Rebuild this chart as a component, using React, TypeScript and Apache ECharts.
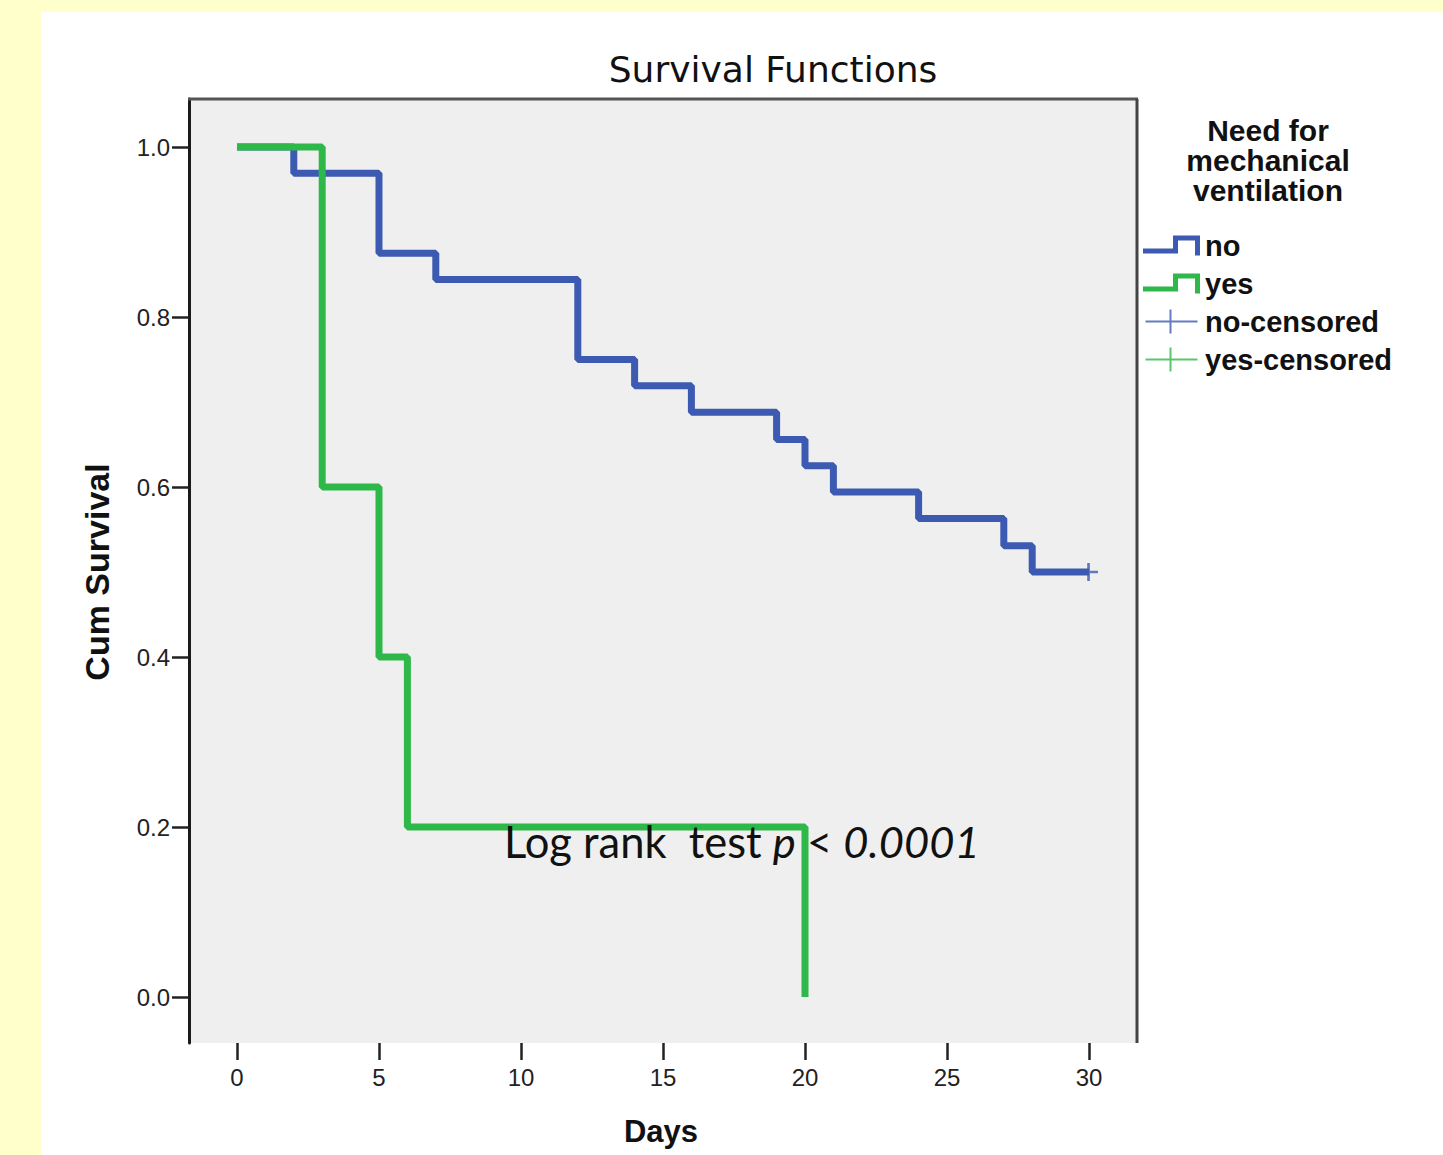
import React, { useEffect, useRef } from "react";
import * as echarts from "echarts";

// Kaplan-Meier step data
const noDays = [0, 2, 5, 7, 12, 14, 16, 19, 20, 21, 24, 27, 28, 30];
const noSurvival = [1.0, 0.969, 0.875, 0.844, 0.75, 0.719, 0.688, 0.656, 0.625, 0.594, 0.563, 0.531, 0.5, 0.5];
const yesDays = [0, 3, 5, 6, 20];
const yesSurvival = [1.0, 0.6, 0.4, 0.2, 0.0];
const noCensoredDays = [30];
const noCensoredSurvival = [0.5];
const yesCensoredDays: number[] = [];
const yesCensoredSurvival: number[] = [];

const xTickValues = [0, 5, 10, 15, 20, 25, 30];
const yTickValues = [0, 0.2, 0.4, 0.6, 0.8, 1.0];

const seriesNames = ["no", "yes", "no-censored", "yes-censored"];
const chartTitle = "Survival Functions";
const legendTitle = "Need for\nmechanical\nventilation";
const xAxisTitle = "Days";
const yAxisTitle = "Cum Survival";

const BLUE = "#3D5AB3";
const GREEN = "#2EB84A";

const STEP_ICON = "path://M0,13 L30,13 L30,0 L57,0 L57,20 L52,20 L52,5 L35,5 L35,18 L0,18 Z";
const CROSS_ICON = "path://M0,11 L52,11 L52,13 L0,13 Z M24,0 L26,0 L26,24 L24,24 Z";
const CENSOR_MARK = "path://M8,0 L11,0 L11,20 L8,20 Z M0,8.5 L20,8.5 L20,11.5 L0,11.5 Z";

const zip = (xs: number[], ys: number[]) => xs.map((x, i) => [x, ys[i]]);

export default function App() {
  const ref = useRef<HTMLDivElement>(null);

  useEffect(() => {
    if (!ref.current) return;
    const chart = echarts.init(ref.current, undefined, { renderer: "svg" });
    const axisFont = "'Liberation Sans', Arial, sans-serif";

    chart.setOption({
      animation: false,
      backgroundColor: "transparent",
      title: [
        {
          text: chartTitle,
          left: 773,
          top: 51,
          padding: 0,
          textAlign: "center",
          textStyle: {
            fontFamily: "'DejaVu Sans', sans-serif",
            fontSize: 36,
            fontWeight: "normal",
            color: "#111",
          },
        },
        {
          text: legendTitle,
          left: 1268,
          top: 115,
          padding: 0,
          textAlign: "center",
          textStyle: {
            fontFamily: axisFont,
            fontSize: 30,
            fontWeight: "bold",
            lineHeight: 30,
            color: "#111",
          },
        },
      ],
      legend: {
        orient: "vertical",
        left: 1143,
        top: 231,
        padding: 0,
        itemWidth: 57,
        itemHeight: 24,
        itemGap: 9,
        selectedMode: false,
        itemStyle: { borderWidth: 0 },
        textStyle: {
          fontFamily: axisFont,
          fontSize: 29,
          fontWeight: "bold",
          color: "#111",
        },
        data: [
          { name: seriesNames[0], icon: STEP_ICON },
          { name: seriesNames[1], icon: STEP_ICON },
          { name: seriesNames[2], icon: CROSS_ICON },
          { name: seriesNames[3], icon: CROSS_ICON },
        ],
      },
      grid: {
        left: 189,
        top: 99,
        width: 948,
        height: 944,
        show: true,
        backgroundColor: "#EFEFEF",
        borderWidth: 0,
      },
      xAxis: {
        type: "value",
        min: -1.69,
        max: 31.69,
        axisLine: { show: false, onZero: false },
        axisTick: {
          show: true,
          length: 17,
          customValues: xTickValues,
          lineStyle: { color: "#222", width: 2.5 },
        },
        axisLabel: {
          margin: 22,
          fontFamily: axisFont,
          fontSize: 24,
          color: "#222",
          customValues: xTickValues,
        },
        splitLine: { show: false },
      },
      yAxis: {
        type: "value",
        min: -0.0541,
        max: 1.0565,
        axisLine: { show: true, onZero: false, lineStyle: { color: "#1a1a1a", width: 3 } },
        axisTick: {
          show: true,
          length: 17,
          customValues: yTickValues,
          lineStyle: { color: "#222", width: 2.5 },
        },
        axisLabel: {
          margin: 19,
          fontFamily: axisFont,
          fontSize: 24,
          color: "#222",
          customValues: yTickValues,
          formatter: (v: number) => v.toFixed(1),
        },
        splitLine: { show: false },
      },
      graphic: [
        {
          type: "line",
          z: 1,
          shape: { x1: 188, y1: 99, x2: 1138, y2: 99 },
          style: { stroke: "#555", lineWidth: 3 },
          silent: true,
        },
        {
          type: "line",
          z: 1,
          shape: { x1: 1137, y1: 99, x2: 1137, y2: 1043 },
          style: { stroke: "#444", lineWidth: 3 },
          silent: true,
        },
        {
          type: "text",
          z: 5,
          x: 97,
          y: 572,
          rotation: Math.PI / 2,
          style: {
            text: yAxisTitle,
            fontFamily: axisFont,
            fontSize: 34,
            fontWeight: "bold",
            fill: "#111",
            align: "center",
            verticalAlign: "middle",
          },
        },
        {
          type: "text",
          z: 5,
          x: 661,
          y: 1131,
          style: {
            text: xAxisTitle,
            fontFamily: axisFont,
            fontSize: 31,
            fontWeight: "bold",
            fill: "#111",
            align: "center",
            verticalAlign: "middle",
          },
        },
        {
          type: "text",
          z: 10,
          x: 504,
          y: 841,
          style: {
            text: "{n|Log rank  test }{i|p}{n| < }{i|0.0001}",
            verticalAlign: "middle",
            align: "left",
            rich: {
              n: { fontFamily: "Lato, 'Open Sans', sans-serif", fontSize: 43.5, fill: "#111", fontStyle: "normal" },
              i: { fontFamily: "Lato, 'Open Sans', sans-serif", fontSize: 43.5, fill: "#111", fontStyle: "italic" },
            },
          },
        },
      ],
      series: [
        {
          name: seriesNames[0],
          type: "line",
          step: "end",
          clip: false,
          showSymbol: false,
          symbol: "none",
          color: BLUE,
          lineStyle: { color: BLUE, width: 7 },
          data: zip(noDays, noSurvival),
          z: 2,
        },
        {
          name: seriesNames[1],
          type: "line",
          step: "end",
          clip: false,
          showSymbol: false,
          symbol: "none",
          color: GREEN,
          lineStyle: { color: GREEN, width: 7 },
          data: zip(yesDays, yesSurvival),
          z: 3,
        },
        {
          name: seriesNames[2],
          type: "scatter",
          clip: false,
          symbol: CENSOR_MARK,
          symbolSize: [18, 18],
          color: BLUE,
          itemStyle: { color: BLUE },
          data: zip(noCensoredDays, noCensoredSurvival),
          z: 4,
        },
        {
          name: seriesNames[3],
          type: "scatter",
          clip: false,
          symbol: CENSOR_MARK,
          symbolSize: [18, 18],
          color: GREEN,
          itemStyle: { color: GREEN },
          data: zip(yesCensoredDays, yesCensoredSurvival),
          z: 4,
        },
      ],
    });

    return () => chart.dispose();
  }, []);

  return (
    <div style={{ position: "fixed", left: 0, top: 0, width: 1443, height: 1155, background: "#FFFFCC" }}>
      <div style={{ position: "absolute", left: 41, top: 12, width: 1402, height: 1143, background: "#FFFFFF" }} />
      <div ref={ref} style={{ position: "absolute", left: 0, top: 0, width: 1443, height: 1155 }} />
    </div>
  );
}
